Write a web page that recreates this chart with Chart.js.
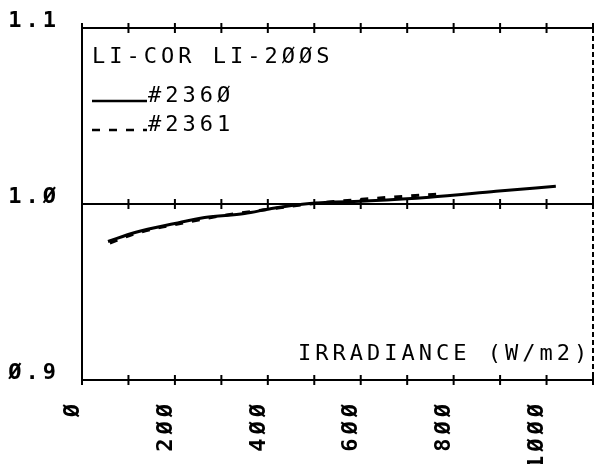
<!DOCTYPE html>
<html lang="en">

<head>
  <meta charset="UTF-8">
  <meta name="viewport" content="width=device-width, initial-scale=1.0">
  <script src="https://cdn.jsdelivr.net/npm/chart.js@4.4.1/dist/chart.umd.min.js"></script>
  <title>LI-COR LI-200S</title>
  <style>
    html, body { margin: 0; padding: 0; background: #fff; }
    #box { width: 597px; height: 464px; }
  </style>
</head>

<body>
  <div id="box">
    <canvas id="grafico"></canvas>
  </div>

<script type="text/javascript">

  // sensor #2360 (solid line)
  var irradiance2360 = [56, 114, 200, 264, 350, 408, 490, 620, 748, 891, 1020];
  var ratio2360 = [0.9787, 0.9838, 0.9889, 0.9923, 0.9946, 0.9974, 1.0003, 1.0018, 1.0039, 1.0072, 1.0101];

  // sensor #2361 (dashed line)
  var irradiance2361 = [60, 110, 160, 200, 300, 400, 500, 620, 700, 780];
  var ratio2361 = [0.9778, 0.9828, 0.9862, 0.9883, 0.9933, 0.9970, 1.0003, 1.0030, 1.0045, 1.0058];

  var legendTitle = 'LI-COR LI-2ØØS';
  var xTitle = 'IRRADIANCE (W/m2)';
  var xTicks = [0, 200, 400, 600, 800, 1000];
  var yTicks = [0.9, 1.0, 1.1];

  var FONT = '"DejaVu Sans Mono", "Liberation Mono", monospace';
  var SPACING = '4px';

  function slashZero(s) {
    return s.replace(/0/g, 'Ø');
  }

  function pontos(xs, ys) {
    return xs.map(function (x, i) { return { x: x, y: ys[i] }; });
  }

  // plotter style: wide letter spacing, cross ticks, dashed right edge, legend box text
  var plotter = {
    id: 'plotter',
    beforeDraw: function (chart) {
      var ctx = chart.ctx;
      ctx.letterSpacing = SPACING;
      ctx.save();
      ctx.fillStyle = '#fff';
      ctx.fillRect(0, 0, chart.width, chart.height);
      ctx.restore();
    },
    afterDraw: function (chart) {
      var ctx = chart.ctx;
      var area = chart.chartArea;
      var xs = chart.scales.x;
      var ys = chart.scales.y;

      ctx.save();
      ctx.strokeStyle = '#000';
      ctx.lineWidth = 2;

      // cross ticks on every horizontal line
      yTicks.forEach(function (v) {
        var py = ys.getPixelForValue(v);
        xs.ticks.forEach(function (t) {
          var px = xs.getPixelForValue(t.value);
          ctx.beginPath();
          ctx.moveTo(px, py - 5);
          ctx.lineTo(px, py + 5);
          ctx.stroke();
        });
      });

      // dashed right edge
      ctx.setLineDash([5, 3]);
      ctx.beginPath();
      ctx.moveTo(area.right, area.top);
      ctx.lineTo(area.right, area.bottom);
      ctx.stroke();
      ctx.setLineDash([]);

      // legend
      ctx.fillStyle = '#000';
      ctx.font = '22px ' + FONT;
      ctx.letterSpacing = SPACING;
      ctx.textAlign = 'left';
      ctx.textBaseline = 'alphabetic';
      var lx = area.left + 10;
      ctx.fillText(legendTitle, lx, area.top + 35);

      var rows = [area.top + 74, area.top + 103];
      chart.data.datasets.forEach(function (ds, i) {
        var ry = rows[i];
        ctx.lineWidth = 2.5;
        ctx.setLineDash(ds.borderDash || []);
        ctx.beginPath();
        ctx.moveTo(lx, ry - 1);
        ctx.lineTo(lx + 55, ry - 1);
        ctx.stroke();
        ctx.setLineDash([]);
        ctx.fillText(ds.label, lx + 56, ry);
      });

      // axis title inside the plot
      ctx.fillText(xTitle, 298, area.bottom - 20);
      ctx.restore();
    }
  };

  var ctx = document.getElementById('grafico').getContext('2d');
  var grafico = new Chart(ctx, {
    type: 'scatter',
    data: {
      datasets: [{
        label: '#236Ø',
        data: pontos(irradiance2360, ratio2360),
        borderColor: '#000',
        borderWidth: 3,
        showLine: true,
        pointRadius: 0,
        cubicInterpolationMode: 'monotone'
      }, {
        label: '#2361',
        data: pontos(irradiance2361, ratio2361),
        borderColor: '#000',
        borderWidth: 3,
        borderDash: [8, 9],
        showLine: true,
        pointRadius: 0,
        cubicInterpolationMode: 'monotone'
      }]
    },
    options: {
      responsive: true,
      maintainAspectRatio: false,
      animation: false,
      layout: {
        padding: { top: 28, right: 4, left: 0, bottom: 0 }
      },
      plugins: {
        legend: { display: false },
        tooltip: { enabled: false }
      },
      scales: {
        x: {
          type: 'linear',
          min: 0,
          max: 1100,
          afterFit: function (scale) {
            scale.height = 84;
            scale.paddingLeft = 0;
            scale.paddingRight = 0;
          },
          grid: { display: false, drawTicks: false },
          border: { display: true, color: '#000', width: 2 },
          ticks: {
            stepSize: 100,
            autoSkip: false,
            minRotation: 90,
            maxRotation: 90,
            padding: 20,
            labelOffset: -9,
            color: '#000',
            font: { family: FONT, size: 22, weight: 'bold' },
            callback: function (v) {
              return xTicks.indexOf(v) >= 0 ? slashZero(String(v)) : '';
            }
          }
        },
        y: {
          type: 'linear',
          min: 0.9,
          max: 1.1,
          afterFit: function (scale) {
            scale.width = 82;
            scale.paddingTop = 0;
            scale.paddingBottom = 0;
          },
          grid: { color: '#000', lineWidth: 2, drawTicks: false },
          border: { display: true, color: '#000', width: 2 },
          ticks: {
            stepSize: 0.1,
            padding: 22,
            labelOffset: -7,
            color: '#000',
            font: { family: FONT, size: 22, weight: 'bold' },
            callback: function (v) {
              return slashZero(Number(v).toFixed(1));
            }
          }
        }
      }
    },
    plugins: [plotter]
  });

</script>
</body>

</html>
